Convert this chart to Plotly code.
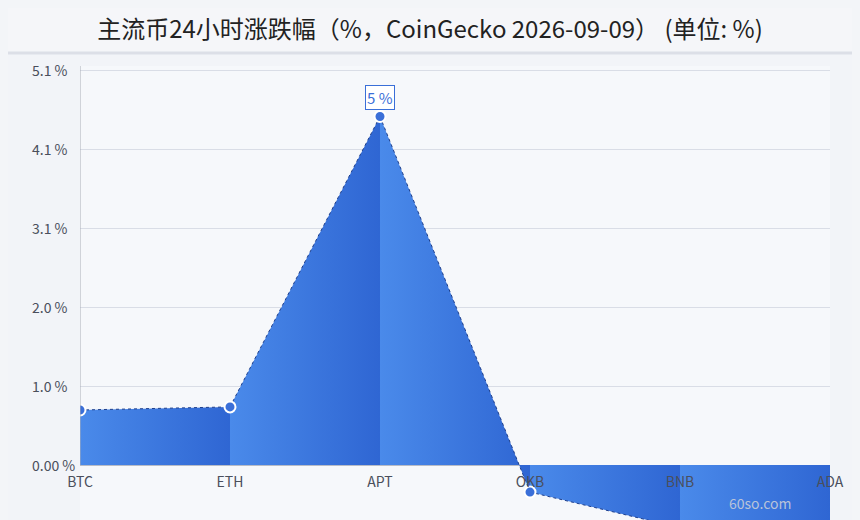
import plotly.graph_objects as go

# 主流币24小时涨跌幅
coins = ["BTC", "ETH", "APT", "OKB", "BNB", "ADA"]
changes = [0.71, 0.75, 4.50, -0.35, -0.81, -1.20]
peak_label = "5 %"
ytick_vals = [0, 1.02, 2.04, 3.06, 4.08, 5.1]
ytick_text = ["0.00 %", "1.0 %", "2.0 %", "3.1 %", "4.1 %", "5.1 %"]

W, H = 860, 520
PAGE_OFF = 8  # the page puts the figure 8px in from the corner
PLOT_L, PLOT_R, PLOT_T, PLOT_B = 80, 830, 66, 520  # wanted, in window pixels
plot_h = PLOT_B - PLOT_T
plot_w = PLOT_R - PLOT_L
px_per_unit = 395 / 5.1
ymax = 5.1 + 4 / px_per_unit
ymin = ymax - plot_h / px_per_unit
zero_pos = (0 - ymin) / (ymax - ymin)


def px_x(x):
    return (x - PLOT_L) / plot_w


def px_y(y):
    return (PLOT_B - y) / plot_h


FONT = "Noto Sans CJK SC, Noto Sans, sans-serif"
grad = [[0, "#4a8aea"], [1, "#2f66d3"]]

fig = go.Figure()

# one filled segment per pair of neighbours, each with its own gradient
for i in range(len(coins) - 1):
    fig.add_trace(go.Scatter(
        x=[i, i + 1], y=[changes[i], changes[i + 1]],
        mode="lines", fill="tozeroy",
        fillgradient=dict(type="horizontal", colorscale=grad),
        line=dict(color="#1e3f8c", width=1, dash="dot"),
        hoverinfo="skip", showlegend=False))

fig.add_trace(go.Scatter(
    x=list(range(len(coins))), y=changes, mode="markers",
    marker=dict(size=11, color="#3a6fd8", line=dict(color="white", width=2)),
    showlegend=False))

fig.update_xaxes(
    tickvals=list(range(len(coins))), ticktext=coins,
    range=[0, len(coins) - 1], anchor="free", position=zero_pos,
    showgrid=False, showline=False, zeroline=False, ticks="",
    ticklabelstandoff=7, automargin=False,
    tickfont=dict(size=14, color="#4a4f5c", family=FONT))
fig.update_yaxes(
    range=[ymin, ymax], tickvals=ytick_vals, showticklabels=False,
    showgrid=True, gridcolor="#d9dde6", gridwidth=1,
    zeroline=True, zerolinecolor="#b8bcc6", zerolinewidth=1,
    showline=False, ticks="", automargin=False)

# y tick labels, left aligned
for v, t in zip(ytick_vals, ytick_text):
    fig.add_annotation(xref="paper", yref="y", x=px_x(30), y=v, text=t,
                       xanchor="left", yanchor="middle", showarrow=False,
                       font=dict(size=14, color="#4a4f5c", family=FONT))

# title band and y axis line
fig.add_shape(type="rect", xref="paper", yref="paper", x0=-1, x1=2,
              y0=px_y(53), y1=px_y(-10), fillcolor="#f5f6f9",
              line_width=0, layer="below")
fig.add_shape(type="line", xref="paper", yref="paper", x0=-1, x1=2,
              y0=px_y(53), y1=px_y(53), line=dict(color="#dcdfe7", width=3))
fig.add_shape(type="line", xref="x", yref="paper", x0=0, x1=0,
              y0=zero_pos, y1=1, line=dict(color="#a9aeb8", width=1))

apt = coins.index("APT")
fig.add_annotation(x=apt, y=changes[apt], text=peak_label, showarrow=True,
                   arrowcolor="rgba(0,0,0,0)", ax=0, ay=-19,
                   font=dict(size=15, color="#3a6fd8", family=FONT),
                   bgcolor="white", bordercolor="#3a6fd8", borderwidth=1, borderpad=1)
fig.add_annotation(xref="paper", yref="paper", x=px_x(760), y=px_y(503),
                   xanchor="center", yanchor="middle", text="60so.com",
                   showarrow=False, font=dict(size=14, color="#b8c3d9", family=FONT))

fig.update_layout(
    width=W, height=H,
    margin=dict(l=PLOT_L - PAGE_OFF, r=W - (PLOT_R - PAGE_OFF),
                t=PLOT_T - PAGE_OFF, b=H - (PLOT_B - PAGE_OFF), autoexpand=False),
    paper_bgcolor="#f2f4f8", plot_bgcolor="#f6f8fb",
    title=dict(text="主流币24小时涨跌幅（%，CoinGecko 2026-09-09） (单位: %)",
               x=(430 - PAGE_OFF) / W, xanchor="center",
               y=1 - (30 - PAGE_OFF) / H, yanchor="middle",
               font=dict(size=24, color="#222222", family=FONT)),
    font=dict(family=FONT),
)

fig.write_html("out.html",
               post_script="document.body.style.background='#f3f5f8';")
